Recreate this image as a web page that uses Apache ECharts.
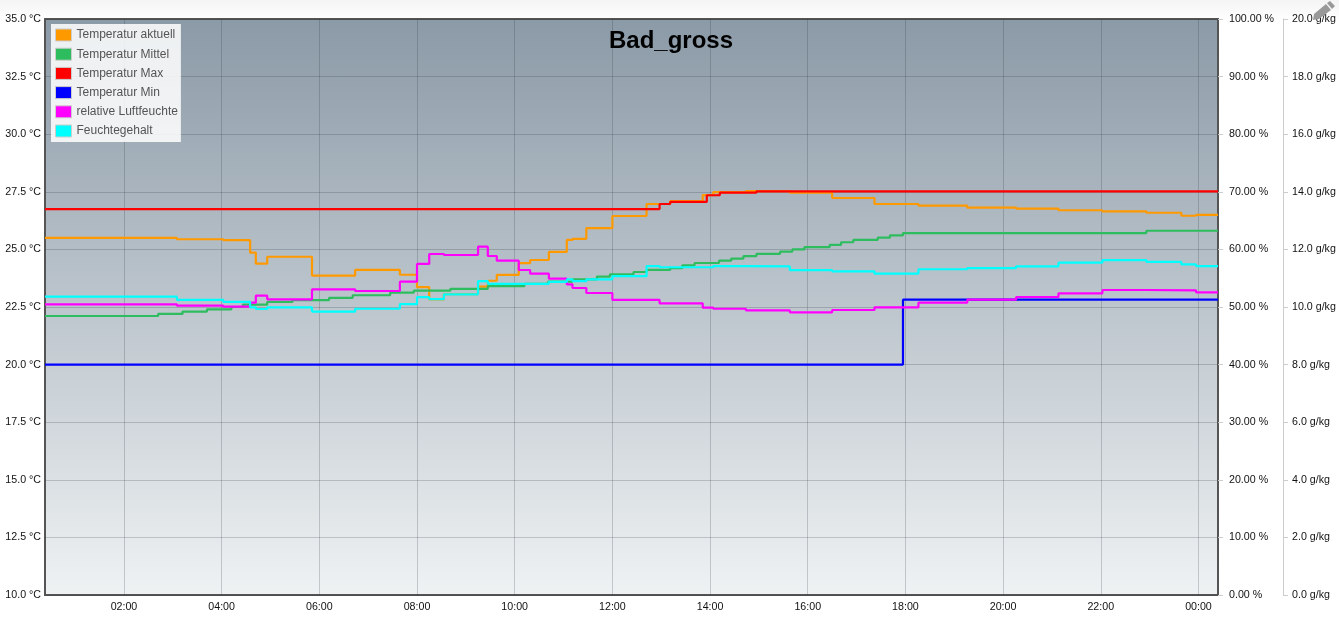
<!DOCTYPE html>
<html>
<head>
<meta charset="utf-8">
<style>
html,body{margin:0;padding:0;width:1339px;height:620px;overflow:hidden;background:linear-gradient(#f4f4f4 0,#ffffff 22px,#ffffff 100%);}
#c{width:1339px;height:620px;}
</style>
<script src="https://cdn.jsdelivr.net/npm/echarts@6/dist/echarts.min.js"></script>
</head>
<body>
<div id="c"></div>
<script>
// times are minutes after midnight of the first day
var xStart = 23, xEnd = 1464;
var tickMinutes = [120,240,360,480,600,720,840,960,1080,1200,1320,1440];

var aktuellT = [23,185,242,275,282,296,351,404,459,480,495,513,555,567,578,605,619,642,664,671,688,720,762,791,831,844,884,938,990,1042,1096,1156,1216,1268,1322,1376,1419,1437,1464];
var aktuellV = [25.5,25.44,25.4,24.86,24.38,24.68,23.86,24.11,23.9,23.36,22.83,23.06,23.38,23.64,23.89,24.4,24.54,24.89,25.41,25.46,25.92,26.45,26.97,27.1,27.36,27.49,27.53,27.46,27.23,26.97,26.9,26.81,26.77,26.7,26.65,26.59,26.46,26.5,26.5];

var mittelT = [23,162,192,222,252,266,296,327,372,401,447,476,521,567,612,641,671,701,717,746,762,791,806,821,851,866,881,897,926,941,956,987,1001,1016,1046,1061,1077,1376,1464];
var mittelV = [22.11,22.2,22.3,22.4,22.5,22.6,22.72,22.8,22.9,23.01,23.12,23.21,23.29,23.41,23.5,23.6,23.7,23.82,23.92,24.02,24.11,24.19,24.31,24.41,24.51,24.6,24.71,24.81,24.9,25.0,25.1,25.2,25.31,25.41,25.51,25.61,25.71,25.81,25.81];

var maxT = [23,778,791,836,852,897,1464];
var maxV = [26.75,26.97,27.06,27.35,27.46,27.52,27.52];

var minT = [23,1077,1464];
var minV = [20,22.82,22.82];

var feuchteT = [23,185,242,275,282,296,351,404,459,480,495,513,555,567,578,605,619,642,664,671,688,720,778,831,844,884,938,990,1042,1096,1156,1216,1268,1322,1376,1437,1464];
var feuchteV = [50.47,50.23,50.05,50.75,51.96,51.34,53.07,52.78,54.39,57.47,59.2,59.03,60.47,58.85,58.04,56.42,55.78,54.91,53.94,53.3,52.43,51.22,50.64,49.88,49.7,49.43,49.08,49.48,49.95,50.75,51.27,51.74,52.38,52.95,52.9,52.55,52.55];

var gehaltT = [23,185,242,275,282,296,351,404,459,480,495,513,555,567,642,664,671,688,720,762,778,844,884,938,990,1042,1096,1156,1216,1268,1322,1376,1419,1437,1464];
var gehaltV = [10.36,10.25,10.18,9.99,9.93,9.99,9.84,9.94,10.1,10.34,10.27,10.44,10.9,10.8,10.87,10.96,10.9,10.96,11.07,11.42,11.38,11.42,11.41,11.28,11.24,11.16,11.31,11.35,11.41,11.54,11.63,11.57,11.48,11.42,11.42];

var names = ['Temperatur aktuell','Temperatur Mittel','Temperatur Max','Temperatur Min','relative Luftfeuchte','Feuchtegehalt'];
var colors = ['#ff9900','#2dbd5f','#ff0000','#0000ff','#ff00ff','#00ffff'];
var titleText = 'Bad_gross';

function pairs(t,v){return t.map(function(x,i){return [x,v[i]];});}
function hhmm(m){var h=Math.floor(m/60)%24;return (h<10?'0':'')+h+':00';}

var font = '"Liberation Sans", Arial, sans-serif';
var lineSets = [pairs(aktuellT,aktuellV),pairs(mittelT,mittelV),pairs(maxT,maxV),pairs(minT,minV),pairs(feuchteT,feuchteV),pairs(gehaltT,gehaltV)];
var axisIdx = [0,0,0,0,1,2];
var gridLine = {show:true,lineStyle:{color:'rgba(40,50,60,0.22)',width:1}};

var chart = echarts.init(document.getElementById('c'),null,{renderer:'canvas',width:1339,height:620});
chart.setOption({
  animation:false,
  textStyle:{fontFamily:font},
  title:{text:titleText,left:666,top:24,textAlign:'center',
    textStyle:{fontFamily:font,fontSize:24,fontWeight:'bold',color:'#000'}},
  legend:{
    orient:'vertical',left:51,top:24,padding:[4.5,3,4.5,4],itemGap:6.2,itemWidth:16,itemHeight:12,
    backgroundColor:'rgba(255,255,255,0.85)',icon:'rect',selectedMode:false,
    itemStyle:{borderColor:'#cccccc',borderWidth:1},
    textStyle:{fontFamily:font,fontSize:12,color:'#545454'},
    data:names
  },
  grid:{left:45,top:19,right:121,bottom:25,show:true,borderColor:'#555555',borderWidth:2,z:0,
    backgroundColor:{type:'linear',x:0,y:0,x2:0,y2:1,colorStops:[{offset:0,color:'#8b9aa7'},{offset:1,color:'#eff2f3'}]}},
  xAxis:{
    type:'value',min:xStart,max:xEnd,z:1,
    axisLine:{show:false},
    axisTick:{show:false,customValues:tickMinutes},
    axisLabel:{customValues:tickMinutes,formatter:function(v){return hhmm(v);},fontFamily:font,fontSize:10.67,color:'#111',margin:7},
    splitLine:gridLine
  },
  yAxis:[
    {type:'value',position:'left',min:10,max:35,interval:2.5,z:1,
      axisLine:{show:false},axisTick:{show:false},
      axisLabel:{formatter:function(v){return v.toFixed(1)+' °C';},fontFamily:font,fontSize:10.67,color:'#111',margin:4,padding:[2,0,0,0]},
      splitLine:gridLine},
    {type:'value',position:'right',min:0,max:100,interval:10,z:1,
      axisLine:{show:false},axisTick:{show:true,length:5,lineStyle:{color:'#cccccc'}},
      axisLabel:{formatter:function(v){return v.toFixed(2)+' %';},fontFamily:font,fontSize:10.67,color:'#111',margin:11,padding:[2,0,0,0]},
      splitLine:{show:false}},
    {type:'value',position:'right',offset:65,min:0,max:20,interval:2,z:1,
      axisLine:{show:true,lineStyle:{color:'#cccccc'}},axisTick:{show:true,length:5,lineStyle:{color:'#cccccc'}},
      axisLabel:{formatter:function(v){return v.toFixed(1)+' g/kg';},fontFamily:font,fontSize:10.67,color:'#111',margin:9,padding:[2,0,0,0]},
      splitLine:{show:false}}
  ],
  graphic:[
    {type:'polygon',z:100,shape:{points:[[1313,20],[1314,14],[1326,4],[1331,10],[1319,19]]},style:{fill:'#999999'}},
    {type:'polygon',z:100,shape:{points:[[1327,3],[1330,1],[1335,6],[1332,9]]},style:{fill:'#999999'}}
  ],
  series:lineSets.map(function(d,i){return {
    name:names[i],type:'line',step:'end',data:d,yAxisIndex:axisIdx[i],showSymbol:false,symbol:'none',
    lineStyle:{color:colors[i],width:2.2},itemStyle:{color:colors[i]},clip:true,z:2+i,silent:true
  };})
});
// keep the small (1-2 px) steps of the lines, which the polyline would otherwise merge
var zr = chart.getZr();
zr.storage.getDisplayList(true).forEach(function(el){
  if (el.segmentIgnoreThreshold) { el.segmentIgnoreThreshold = 0.01; if (el.dirtyShape) el.dirtyShape(); }
});
zr.refreshImmediately();
</script>
</body>
</html>
